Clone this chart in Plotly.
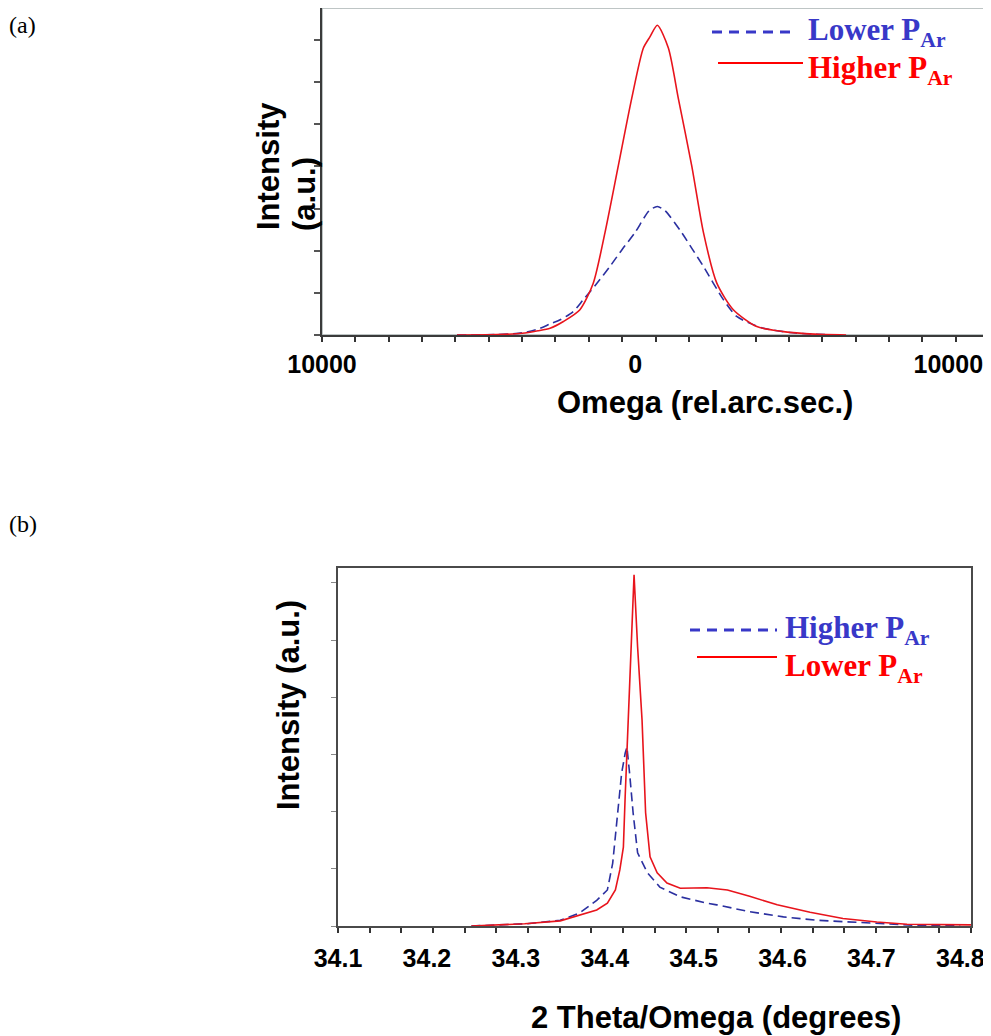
import plotly.graph_objects as go

W, H = 991, 1036
OFF = 8  # page body margin offset of the rendered figure

# ---------------- Panel (a): omega rocking curves ----------------
omega_lower = [-5689, -4421, -3610, -3103, -2718, -2393, -1987, -1653, -1226, -802,
               -415, -4, 447, 709, 954, 1487, 1816, 2179, 2818, 3243,
               3693, 4095, 4947, 5722, 6330]
int_lower = [0.0, 0.01, 0.05, 0.14, 0.26, 0.36, 0.55, 0.84, 1.22, 1.63,
             2.03, 2.43, 2.95, 3.05, 2.95, 2.43, 2.05, 1.63, 0.84, 0.44,
             0.27, 0.16, 0.06, 0.02, 0.0]

omega_higher = [-5689, -4421, -3610, -3103, -2718, -2291, -1764, -1338, -963, -537,
                -111, 263, 476, 709, 1061, 1380, 1806, 2182, 2608, 3135,
                3886, 4738, 5722, 6736]
int_higher = [0.0, 0.01, 0.04, 0.10, 0.16, 0.32, 0.60, 1.23, 2.43, 4.02,
              5.61, 6.81, 7.08, 7.35, 6.81, 5.61, 4.02, 2.43, 1.23, 0.60,
              0.20, 0.08, 0.02, 0.0]

a_tickvals = [-10000, 0, 10000]
a_ticktext = ["10000", "0", "10000"]

# ---------------- Panel (b): 2Theta/Omega scans ----------------
tt_higher = [34.25, 34.313, 34.350, 34.372, 34.391, 34.403, 34.409, 34.415, 34.419,
             34.423, 34.425, 34.428, 34.432, 34.437, 34.448, 34.462, 34.485, 34.515,
             34.526, 34.563, 34.601, 34.639, 34.676, 34.713, 34.751, 34.80]
int_b_higher = [0.0, 0.04, 0.10, 0.23, 0.45, 0.63, 1.10, 1.97, 2.67,
                3.02, 3.13, 2.67, 1.97, 1.28, 0.93, 0.68, 0.51, 0.40,
                0.37, 0.25, 0.16, 0.10, 0.07, 0.03, 0.01, 0.0]

tt_lower = [34.25, 34.31, 34.35, 34.372, 34.391, 34.403, 34.412, 34.417, 34.421,
            34.423, 34.426, 34.430, 34.433, 34.437, 34.442, 34.446, 34.451, 34.459,
            34.470, 34.485, 34.507, 34.515, 34.538, 34.563, 34.594, 34.631, 34.668,
            34.706, 34.740, 34.812]
int_b_lower = [0.0, 0.04, 0.09, 0.19, 0.28, 0.40, 0.63, 0.98, 1.38,
               2.26, 3.43, 4.88, 6.14, 4.88, 3.60, 1.98, 1.21, 0.93,
               0.75, 0.66, 0.66, 0.67, 0.63, 0.52, 0.37, 0.24, 0.13,
               0.07, 0.03, 0.02]

b_tickvals = [34.1, 34.2, 34.3, 34.4, 34.5, 34.6, 34.7, 34.8]
b_ticktext = ["34.1", "34.2", "34.3", "34.4", "34.5", "34.6", "34.7", "34.8"]

BLUE_LINE = "#2b30a0"
RED_LINE = "#e8141c"
BLUE_TXT = "#3838c8"
RED_TXT = "#ff0000"

fig = go.Figure()
fig.add_trace(go.Scatter(x=omega_lower, y=int_lower, xaxis="x", yaxis="y", mode="lines",
                         line=dict(color=BLUE_LINE, width=1.6, dash="9px,5px",
                                   shape="spline", smoothing=0.7)))
fig.add_trace(go.Scatter(x=omega_higher, y=int_higher, xaxis="x", yaxis="y", mode="lines",
                         line=dict(color=RED_LINE, width=1.6, shape="spline", smoothing=0.7)))
fig.add_trace(go.Scatter(x=tt_higher, y=int_b_higher, xaxis="x2", yaxis="y2", mode="lines",
                         line=dict(color=BLUE_LINE, width=1.6, dash="9px,5px")))
fig.add_trace(go.Scatter(x=tt_lower, y=int_b_lower, xaxis="x2", yaxis="y2", mode="lines",
                         line=dict(color=RED_LINE, width=1.6)))


def px(x):
    return (x - OFF) / W


def py(y):
    return 1 - (y - OFF) / H


tickfont = dict(family="Liberation Sans, Arial, sans-serif", size=25, color="black", weight="bold")

# top of panel (a) lies above the visible page; keep same scale (42.1 px per unit)
top_a = 7.95 - OFF / 42.1
a_range = [-10000, 11300]

fig.update_layout(
    width=W, height=H, margin=dict(l=0, r=0, t=0, b=0, autoexpand=False),
    plot_bgcolor="white", paper_bgcolor="white", showlegend=False,
    xaxis=dict(domain=[px(322), px(989)], range=a_range, anchor="y", automargin=False,
               showline=True, linecolor="#3a3a3a", linewidth=2, showgrid=False, zeroline=False,
               tickmode="array", tickvals=a_tickvals, ticktext=a_ticktext, ticks="",
               tickfont=tickfont, ticklabelstandoff=6,
               minor=dict(ticks="outside", tick0=-10000, dtick=(a_range[1] - a_range[0]) / 20,
                          ticklen=5, tickcolor="#333333", tickwidth=1.5, showgrid=False)),
    yaxis=dict(domain=[py(335), 1.0], range=[0, top_a], anchor="x", automargin=False,
               showline=True, linecolor="#3a3a3a", linewidth=2, showgrid=False, zeroline=False,
               tickmode="linear", tick0=0, dtick=1, ticks="outside", ticklen=6,
               tickcolor="#555555", tickwidth=1.5, showticklabels=False),
    xaxis2=dict(domain=[px(338), px(971)], range=[34.1, 34.812], anchor="y2", automargin=False,
                showline=True, mirror=True, linecolor="#4a4a4a", linewidth=1.5,
                showgrid=False, zeroline=False,
                tickmode="array", tickvals=b_tickvals, ticktext=b_ticktext, ticks="",
                tickfont=tickfont, ticklabelstandoff=9,
                minor=dict(ticks="outside", tick0=34.1, dtick=0.0356, ticklen=5,
                           tickcolor="#333333", tickwidth=1.5, showgrid=False)),
    yaxis2=dict(domain=[py(926), py(568)], range=[0, 6.26], anchor="x2", automargin=False,
                showline=True, mirror=True, linecolor="#4a4a4a", linewidth=1.5,
                showgrid=False, zeroline=False,
                tickmode="linear", tick0=0, dtick=1, ticks="outside", ticklen=5,
                tickcolor="#888888", tickwidth=1.2, showticklabels=False),
)

# light frame (top/right) of panel (a)
fig.add_shape(type="rect", xref="x domain", yref="y domain", x0=0, x1=1, y0=0, y1=1,
              line=dict(color="#a9b3b3", width=1.5), layer="below")

title_font = dict(family="Liberation Sans, Arial, sans-serif", size=31, color="black", weight="bold")
serif_leg = "Liberation Serif, Times New Roman, serif"

anns = []


def ann(text, x, y, font, xanchor="center", yanchor="middle", angle=0):
    anns.append(dict(text=text, x=px(x), y=py(y), xref="paper", yref="paper",
                     xanchor=xanchor, yanchor=yanchor, showarrow=False,
                     font=font, textangle=angle))


# axis titles
ann("Omega (rel.arc.sec.)", 705, 403, title_font)
ann("2 Theta/Omega (degrees)", 716, 1017, title_font)
ann("Intensity", 268, 166, title_font, angle=-90)
ann("(a.u.)", 305, 194, title_font, angle=-90)
ann("Intensity (a.u.)", 288, 705, title_font, angle=-90)

# panel labels
plab = dict(family=serif_leg, size=24, color="black")
ann("(a)", 7, 25, plab, xanchor="left")
ann("(b)", 7, 524, plab, xanchor="left")

# legends
leg_b = dict(family=serif_leg, size=31, color=BLUE_TXT, weight="bold")
leg_r = dict(family=serif_leg, size=31, color=RED_TXT, weight="bold")
ann("Lower P<sub>Ar</sub>", 806, 32, leg_b, xanchor="left")
ann("Higher P<sub>Ar</sub>", 806, 70, leg_r, xanchor="left")
ann("Higher P<sub>Ar</sub>", 783, 630, leg_b, xanchor="left")
ann("Lower P<sub>Ar</sub>", 783, 668, leg_r, xanchor="left")

fig.update_layout(annotations=anns)

# legend sample lines
fig.add_shape(type="line", xref="paper", yref="paper", x0=px(712), x1=px(797), y0=py(32), y1=py(32),
              line=dict(color=BLUE_TXT, width=3, dash="10px,7px"))
fig.add_shape(type="line", xref="paper", yref="paper", x0=px(718), x1=px(803), y0=py(63), y1=py(63),
              line=dict(color=RED_TXT, width=2))
fig.add_shape(type="line", xref="paper", yref="paper", x0=px(690), x1=px(777), y0=py(630), y1=py(630),
              line=dict(color=BLUE_TXT, width=3, dash="10px,7px"))
fig.add_shape(type="line", xref="paper", yref="paper", x0=px(697), x1=px(777), y0=py(657), y1=py(657),
              line=dict(color=RED_TXT, width=2))

fig.write_html("out.html")
